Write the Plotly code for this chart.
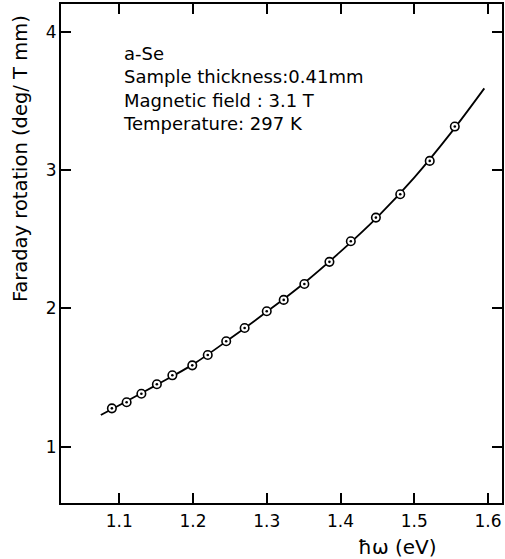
import plotly.graph_objects as go

# Measured data points (photon energy in eV, Faraday rotation in deg/(T mm))
energy = [1.090, 1.110, 1.130, 1.151, 1.172, 1.199, 1.220, 1.245, 1.270,
          1.300, 1.323, 1.351, 1.385, 1.414, 1.448, 1.481, 1.521, 1.555]
rotation = [1.277, 1.321, 1.383, 1.451, 1.516, 1.588, 1.663, 1.762, 1.858,
            1.979, 2.061, 2.176, 2.336, 2.485, 2.656, 2.825, 3.066, 3.314]

# Fitted curve
curve_energy = [1.075, 1.10, 1.15, 1.20, 1.25, 1.30, 1.35, 1.40, 1.45, 1.50, 1.55, 1.595]
curve_rotation = [1.229, 1.300, 1.445, 1.595, 1.780, 1.975, 2.180, 2.410, 2.660, 2.945, 3.270, 3.590]

x_ticks = [1.1, 1.2, 1.3, 1.4, 1.5, 1.6]
y_ticks = [1, 2, 3, 4]

info_lines = ["a-Se", "Sample thickness:0.41mm", "Magnetic field : 3.1 T", "Temperature: 297 K"]

FONT = "DejaVu Sans"

fig = go.Figure()
fig.add_trace(go.Scatter(x=curve_energy, y=curve_rotation, mode="lines",
                         line=dict(color="black", width=1.8, shape="spline", smoothing=1.0),
                         hoverinfo="skip", showlegend=False))
fig.add_trace(go.Scatter(x=energy, y=rotation, mode="markers",
                         marker=dict(symbol="circle", size=8.5, color="white",
                                     line=dict(color="black", width=1.6)),
                         showlegend=False))
fig.add_trace(go.Scatter(x=energy, y=rotation, mode="markers",
                         marker=dict(symbol="circle", size=2.6, color="black",
                                     line=dict(width=0)),
                         showlegend=False, hoverinfo="skip"))

axis_common = dict(showgrid=False, zeroline=False, showline=True, linecolor="black",
                   linewidth=2, ticks="inside", ticklen=10, tickwidth=2, tickcolor="black",
                   mirror="ticks", tickfont=dict(family=FONT, size=17, color="black"))

fig.update_xaxes(range=[1.021, 1.619], tickvals=x_ticks,
                 ticktext=[f"{v:.1f}" for v in x_ticks], ticklabelstandoff=2, **axis_common)
fig.update_yaxes(range=[0.593, 4.20], tickvals=y_ticks,
                 ticktext=[str(v) for v in y_ticks], ticklabelstandoff=-1, **axis_common)

fig.add_annotation(text="<br>".join(info_lines), xref="paper", yref="paper",
                   x=0.136, y=0.831, xanchor="left", yanchor="middle", align="left",
                   showarrow=False, font=dict(family=FONT, size=18, color="black"))

fig.add_annotation(text="Faraday rotation (deg/ T mm)", xref="paper", yref="paper",
                   x=-0.092, y=0.69, textangle=-90, showarrow=False,
                   xanchor="center", yanchor="middle",
                   font=dict(family=FONT, size=19.5, color="black"))
fig.add_annotation(text="ħω (eV)", xref="paper", yref="paper",
                   x=0.764, y=-0.088, showarrow=False, xanchor="center", yanchor="middle",
                   font=dict(family=FONT, size=20, color="black"))

fig.update_layout(width=505, height=559, margin=dict(l=61, r=1, t=4, b=56),
                  plot_bgcolor="white", paper_bgcolor="white", showlegend=False)

fig.write_html("out.html", config={"displayModeBar": False},
               post_script="document.body.style.margin='0';document.body.style.overflow='hidden';")
